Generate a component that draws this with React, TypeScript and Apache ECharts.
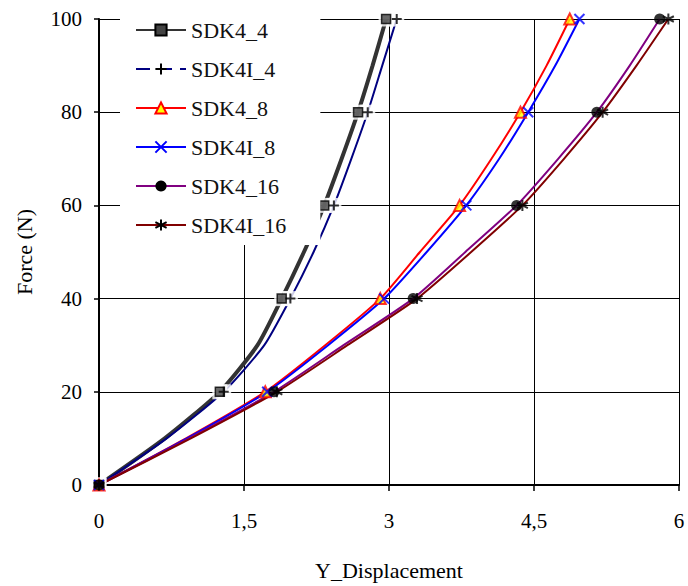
import React, { useEffect, useRef } from "react";
import * as echarts from "echarts";

const force = [0, 10, 20, 30, 40, 50, 60, 70, 80, 90, 100];
const sdk4_4 = [0, 0.68, 1.25, 1.64, 1.89, 2.12, 2.33, 2.51, 2.68, 2.83, 2.97];
const sdk4i_4 = [0, 0.7, 1.29, 1.71, 1.98, 2.22, 2.43, 2.61, 2.78, 2.93, 3.08];
const sdk4_8 = [0, 0.9, 1.72, 2.34, 2.91, 3.32, 3.73, 4.06, 4.36, 4.63, 4.87];
const sdk4i_8 = [0, 0.91, 1.74, 2.37, 2.95, 3.39, 3.8, 4.14, 4.44, 4.72, 4.97];
const sdk4_16 = [0, 0.93, 1.81, 2.53, 3.25, 3.79, 4.32, 4.75, 5.15, 5.49, 5.8];
const sdk4i_16 = [0, 0.95, 1.84, 2.57, 3.29, 3.85, 4.38, 4.81, 5.21, 5.56, 5.89];

const xTicks = [0, 1.5, 3, 4.5, 6];
const yTicks = [0, 20, 40, 60, 80, 100];

const FONT = "'Liberation Serif', 'Times New Roman', 'DejaVu Serif', serif";

const PLUS = "path://M5 0V10M0 5H10";
const CROSS = "path://M0 0L10 10M0 10L10 0";
const STAR = "path://M5 0V10M0.7 2.5L9.3 7.5M0.7 7.5L9.3 2.5";

type Def = {
  name: string;
  xs: number[];
  line: string;
  width: number;
  symbol: string;
  size: number;
  fill: string;
  border: string;
  borderWidth: number;
  halo?: boolean;
};

const defs: Def[] = [
  { name: "SDK4_4", xs: sdk4_4, line: "#333333", width: 4, symbol: "rect", size: 9, fill: "#444444", border: "#000000", borderWidth: 1.5, halo: true },
  { name: "SDK4I_4", xs: sdk4i_4, line: "#000080", width: 2, symbol: PLUS, size: 10, fill: "#000000", border: "#000000", borderWidth: 2, halo: true },
  { name: "SDK4_8", xs: sdk4_8, line: "#ff0000", width: 2, symbol: "triangle", size: 11, fill: "#ffff00", border: "#ff0000", borderWidth: 2 },
  { name: "SDK4I_8", xs: sdk4i_8, line: "#0000ff", width: 2, symbol: CROSS, size: 10, fill: "#0000ff", border: "#0000ff", borderWidth: 2 },
  { name: "SDK4_16", xs: sdk4_16, line: "#800080", width: 2, symbol: "circle", size: 11, fill: "#000000", border: "#000000", borderWidth: 0 },
  { name: "SDK4I_16", xs: sdk4i_16, line: "#800000", width: 2, symbol: STAR, size: 11, fill: "#000000", border: "#000000", borderWidth: 2 },
];

export default function App() {
  const ref = useRef<HTMLDivElement>(null);
  useEffect(() => {
    if (!ref.current) return;
    const chart = echarts.init(ref.current, undefined, { renderer: "svg" });
    const series: any[] = [];
    defs.forEach((d) => {
      const pts = force.map((f, i) => [d.xs[i], f]);
      series.push({
        type: "line",
        name: d.name,
        data: pts,
        showSymbol: false,
        symbol: d.symbol,
        symbolSize: d.size,
        smooth: 0.2,
        z: 2,
        lineStyle: { color: d.line, width: d.width },
        itemStyle: { color: d.fill, borderColor: d.border, borderWidth: d.borderWidth },
      });
    });
    const haloPts: number[][] = [];
    defs.forEach((d) => {
      if (!d.halo) return;
      force.forEach((f, i) => {
        if (f % 20 === 0) haloPts.push([d.xs[i], f]);
      });
    });
    series.push({
      type: "scatter",
      name: "halo",
      data: haloPts,
      symbol: "rect",
      symbolSize: 15,
      silent: true,
      z: 3,
      itemStyle: { color: "#ffffff" },
    });
    defs.forEach((d) => {
      const pts = force
        .map((f, i) => [d.xs[i], f])
        .filter((p) => p[1] % 20 === 0);
      series.push({
        type: "scatter",
        name: d.name + "_m",
        data: pts,
        symbol: d.symbol,
        symbolSize: d.size,
        silent: true,
        z: 4,
        itemStyle: { color: d.fill, borderColor: d.border, borderWidth: d.borderWidth },
      });
    });

    chart.setOption({
      animation: false,
      textStyle: { fontFamily: FONT },
      grid: { left: 99, right: 9, top: 19, bottom: 100, containLabel: false },
      legend: {
        data: defs.map((d) =>
          d.name === "SDK4I_4"
            ? { name: d.name, lineStyle: { type: [14, 8] } }
            : { name: d.name }
        ),
        orient: "vertical",
        left: 120,
        top: 0,
        padding: [19, 34, 9, 15],
        backgroundColor: "#ffffff",
        itemWidth: 50,
        itemHeight: 14,
        itemGap: 17,
        textStyle: { fontFamily: FONT, fontSize: 22, color: "#111111" },
        z: 5,
      },
      xAxis: {
        type: "value",
        min: xTicks[0],
        max: xTicks[xTicks.length - 1],
        interval: 1.5,
        name: "Y_Displacement",
        nameLocation: "middle",
        nameGap: 74,
        nameTextStyle: { fontFamily: FONT, fontSize: 22, color: "#000" },
        axisLine: { lineStyle: { color: "#000", width: 2 } },
        axisTick: { show: true, length: 6, lineStyle: { color: "#000", width: 1.5 } },
        axisLabel: {
          fontFamily: FONT,
          fontSize: 21,
          color: "#000",
          margin: 25,
          formatter: (v: number) => String(v).replace(".", ","),
        },
        splitLine: { show: true, lineStyle: { color: "#000", width: 1 } },
      },
      yAxis: {
        type: "value",
        min: yTicks[0],
        max: yTicks[yTicks.length - 1],
        interval: 20,
        name: "Force (N)",
        nameLocation: "middle",
        nameGap: 64,
        nameTextStyle: { fontFamily: FONT, fontSize: 22, color: "#000" },
        axisLine: { show: true, lineStyle: { color: "#000", width: 2 } },
        axisTick: { show: true, length: 5, lineStyle: { color: "#000", width: 1.5 } },
        axisLabel: { fontFamily: FONT, fontSize: 21, color: "#000", margin: 17 },
        splitLine: { show: true, lineStyle: { color: "#000", width: 1 } },
      },
      series,
    });
    return () => chart.dispose();
  }, []);
  return <div ref={ref} style={{ width: 688, height: 586, position: "absolute", left: 0, top: 0 }} />;
}
